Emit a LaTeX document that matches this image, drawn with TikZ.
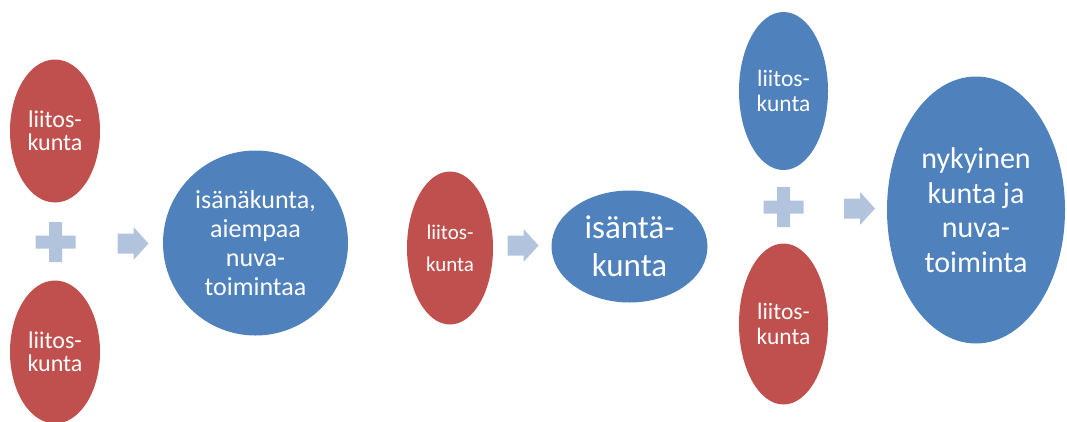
\documentclass[tikz,border=0pt]{standalone}
\usepackage{fontspec}
\setmainfont{Carlito}
\usetikzlibrary{shapes.geometric}
\definecolor{kred}{HTML}{C0504D}
\definecolor{kblue}{HTML}{4F81BD}
\definecolor{klight}{RGB}{178,195,222}
\tikzset{
  blob/.style={ellipse, inner sep=0pt, text=white, align=center},
  redblob/.style={blob, fill=kred},
  blueblob/.style={blob, fill=kblue},
  plussign/.style={fill=klight},
  arrowsign/.style={fill=klight}
}
\newcommand{\plusat}[1]{%
  \fill[plussign] ([xshift=-20pt,yshift=6.5pt]#1) -- ++(13.5,0) -- ++(0,-13.5) -- ++(13,0) -- ++(0,13.5) -- ++(13.5,0) -- ++(0,13) -- ++(-13.5,0) -- ++(0,13.5) -- ++(-13,0) -- ++(0,-13.5) -- ++(-13.5,0) -- cycle;}
\newcommand{\arrowat}[1]{%
  \fill[arrowsign] ([xshift=-15pt,yshift=10pt]#1) -- ++(16,0) -- ++(0,-6.5) -- ++(15,16.5) -- ++(-15,16.5) -- ++(0,-6.5) -- ++(-16,0) -- cycle;}
\begin{document}
\begin{tikzpicture}[x=1pt,y=-1pt]
\useasboundingbox (0,0) rectangle (1067,421);
% left group
\node[redblob, minimum width=90pt, minimum height=143pt, font=\fontsize{24}{23}\selectfont] (l1) at (55,131) {liitos-\\kunta};
\node[redblob, minimum width=90pt, minimum height=143pt, font=\fontsize{24}{23}\selectfont] (l2) at (55,352) {liitos-\\kunta};
\coordinate (p1) at (55.5,242);
\plusat{p1}
\coordinate (a1) at (132.5,243.5);
\arrowat{a1}
\node[blueblob, minimum width=185pt, minimum height=185pt, font=\fontsize{26}{29}\selectfont] (c1) at (255.5,243) {isänäkunta,\\aiempaa\\nuva-\\toimintaa};
% middle group
\node[redblob, minimum width=86pt, minimum height=153pt, font=\fontsize{21}{32}\selectfont] (m1) at (450,248) {liitos-\\kunta};
\coordinate (a2) at (522.5,245.5);
\arrowat{a2}
\node[blueblob, minimum width=156pt, minimum height=112pt, font=\fontsize{33}{38}\selectfont] (c2) at (629.5,246.5) {isäntä-\\kunta};
% right group
\node[blueblob, minimum width=89pt, minimum height=158pt, font=\fontsize{23.5}{25}\selectfont] (r1) at (783.5,91) {liitos-\\kunta};
\node[redblob, minimum width=89pt, minimum height=161pt, font=\fontsize{23.5}{25}\selectfont] (r2) at (783.5,324) {liitos-\\kunta};
\coordinate (p2) at (783.5,207);
\plusat{p2}
\coordinate (a3) at (859,208.5);
\arrowat{a3}
\node[blueblob, minimum width=178pt, minimum height=267pt, font=\fontsize{30}{34.5}\selectfont] (c3) at (976,210) {nykyinen\\kunta ja\\nuva-\\toiminta};
\end{tikzpicture}
\end{document}
